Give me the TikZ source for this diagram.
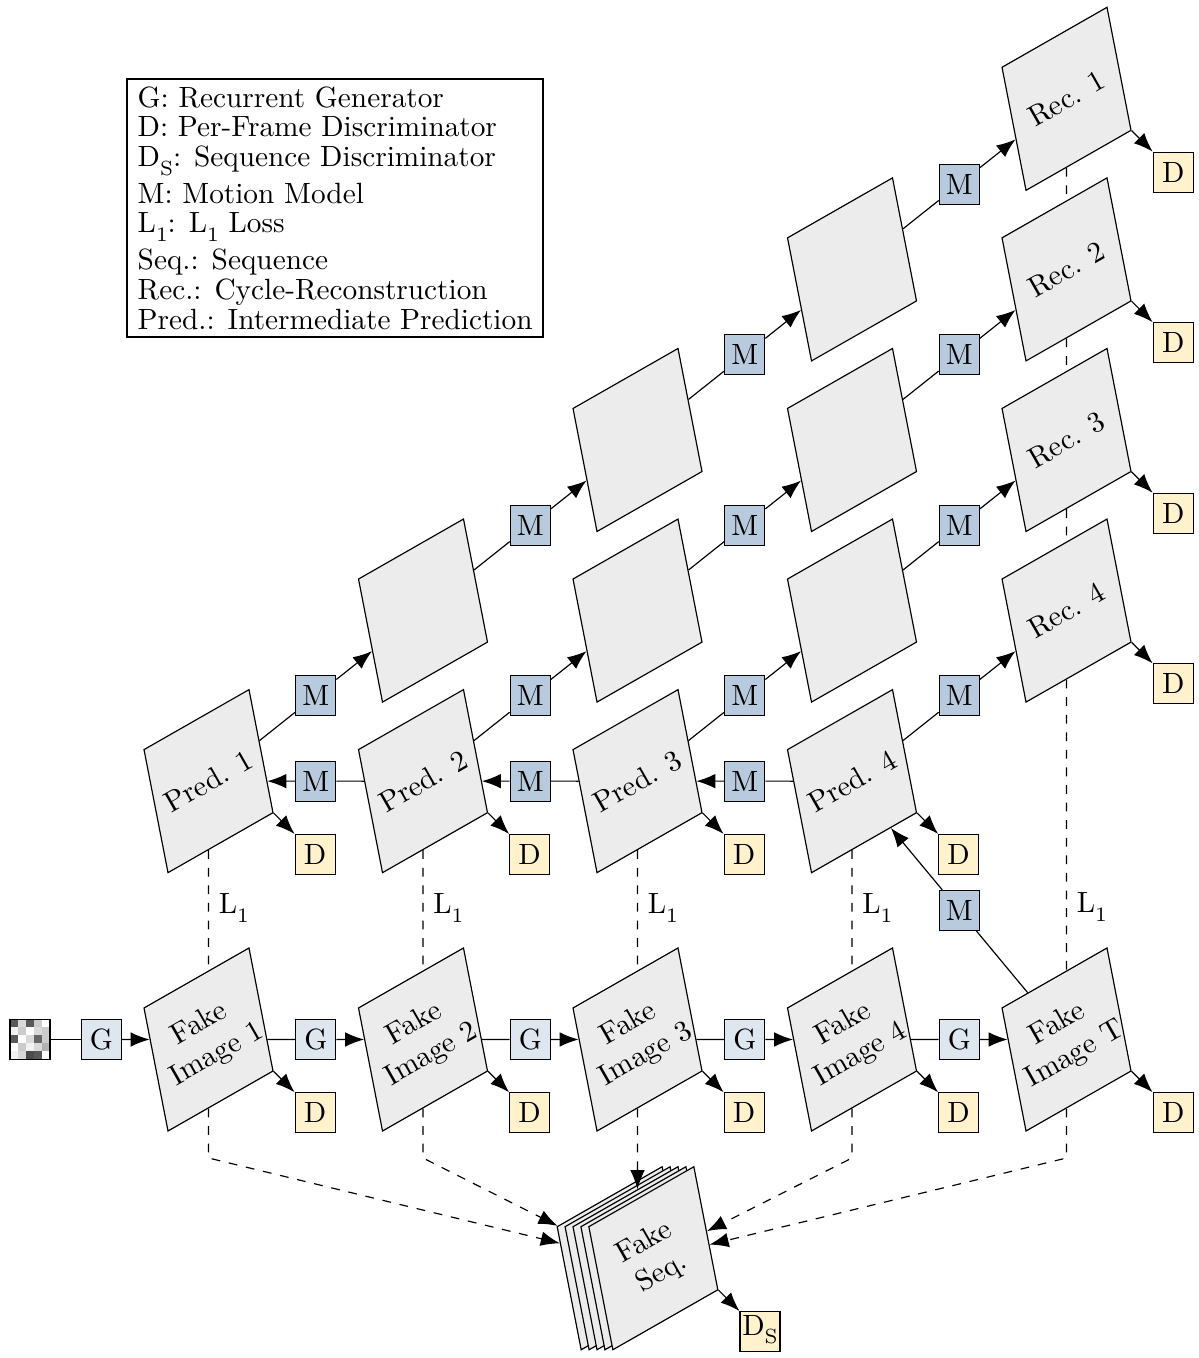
\documentclass[tikz,border=0pt]{standalone}
\usepackage{tikz}
\usetikzlibrary{arrows.meta,calc}
\definecolor{cardgray}{RGB}{236,236,236}
\definecolor{genblue}{RGB}{222,230,240}
\definecolor{motblue}{RGB}{184,202,222}
\definecolor{discyellow}{RGB}{255,242,204}
\newcommand{\colstep}{2.574}
\newcommand{\predy}{3.10}
\newcommand{\diagy}{2.047}
\newcommand{\lowsub}[1]{\raisebox{-3pt}[\height][4.4pt]{\scriptsize #1}}
\tikzset{
  cardshape/.style = {draw, fill=cardgray, rotate=29.74, xslant=0.3385,
    minimum width=1.451cm, minimum height=1.425cm, inner sep=0pt},
  pics/card/.default={},
  pics/card/.style = {
    code = {
    \node[cardshape] (-box) {};
    \node[rotate=29.74, align=center, inner sep=0pt] (-txt) {#1};
    }
  },
  unit/.style = {draw, minimum size=0.48cm, inner sep=0pt},
  gen/.style = {unit, fill=genblue},
  mot/.style = {unit, fill=motblue},
  disc/.style = {unit, fill=discyellow},
  arr/.style = {-{Latex[length=6.5pt,width=5pt]}},
  loss/.style = {dashed}
}
\begin{document}
\begin{tikzpicture}
\useasboundingbox (-2.502,-3.822) rectangle (11.874,12.474);

\foreach \c [count=\n from 0] in {65,15,65,20,0, 5,20,0,15,20, 65,0,15,60,20, 0,20,5,15,30, 5,15,70,65,0}{
  \pgfmathtruncatemacro\cx{mod(\n,5)}
  \pgfmathtruncatemacro\cy{int(\n/5)}
  \fill[black!\c] (-2.382+0.096*\cx, 0.24-0.096*\cy) rectangle ++(0.096,-0.096);
}
\node[unit] (noise) at (-2.142,0) {};

\foreach \i/\t in {1/1,2/2,3/3,4/4,5/T}{
  \pic (img-\i) at ({(\i-1)*\colstep},0) {card={Fake\\Image \t}};
  \node[gen] (g-\i) at ({(\i-1.5)*\colstep},0) {G};
  \node[disc] (d-img-\i) at ({(\i-1)*\colstep+1.28},-0.88) {D};
  \draw[arr] (img-\i-box.south east) -- (d-img-\i);
  \draw[arr] (g-\i) -- (img-\i-box);
}
\draw (noise) -- (g-1);
\foreach \i in {2,...,5}{
  \pgfmathtruncatemacro\prev{\i-1}
  \draw (img-\prev-box) -- (g-\i);
}

\foreach \k in {1,...,4}{
  \pic (pred-\k) at ({(\k-1)*\colstep},\predy) {card={Pred. \k}};
  \node[disc] (d-pred-\k) at ({(\k-1)*\colstep+1.28},\predy-0.88) {D};
  \draw[arr] (pred-\k-box.south east) -- (d-pred-\k);
  \draw[loss] (pred-\k-box) -- node[right] (l1-\k) {L\lowsub{1}} (img-\k-box);
  \pic (rec-\k) at ({4*\colstep},{\predy+(5-\k)*\diagy}) {card={Rec. \k}};
  \node[disc] (d-rec-\k) at ({4*\colstep+1.28},{\predy+(5-\k)*\diagy-0.88}) {D};
  \draw[arr] (rec-\k-box.south east) -- (d-rec-\k);
}
\foreach \k/\s in {1/1,1/2,1/3,2/1,2/2,3/1}
  \pic (ch-\k-\s) at ({(\k+\s-1)*\colstep},{\predy+\s*\diagy}) {card};

\foreach \a/\b in {pred-1/ch-1-1, ch-1-1/ch-1-2, ch-1-2/ch-1-3, ch-1-3/rec-1,
                   pred-2/ch-2-1, ch-2-1/ch-2-2, ch-2-2/rec-2,
                   pred-3/ch-3-1, ch-3-1/rec-3, pred-4/rec-4,
                   pred-2/pred-1, pred-3/pred-2, pred-4/pred-3, img-5/pred-4}{
  \node[mot] (m-\a-\b) at ($(\a-box)!0.5!(\b-box)$) {M};
  \draw (\a-box) -- (m-\a-\b);
  \draw[arr] (m-\a-\b) -- (\b-box);
}

\draw[loss] (rec-1-box) -- (rec-2-box);
\draw[loss] (rec-2-box) -- (rec-3-box);
\draw[loss] (rec-3-box) -- (rec-4-box);
\draw[loss] (rec-4-box) -- node[pos=0.79,right] (l1-5) {L\lowsub{1}} (img-5-box);

\foreach \j in {1,...,4}
  \pic (seq-\j) at ({2*\colstep+(\j-3)*0.095},-2.625) {card};
\pic (seq-5) at ({2*\colstep+0.19},-2.625) {card={Fake\\Seq.}};
\node[disc] (ds) at ({2*\colstep+0.19+1.28},-3.505) {D\lowsub{S}};
\draw[arr] (seq-5-box.south east) -- (ds);

\foreach \i/\t in {1/1,2/1,4/5,5/5}
  \draw[loss,arr] (img-\i-box) -- ({(\i-1)*\colstep},-1.422) -- (seq-\t-box);
\draw[loss,arr] (img-3-box) -- (seq-3-box);

\node[draw, thick, anchor=north west, align=left, inner xsep=3.6pt, inner ysep=2.5pt,
  font=\linespread{0.85}\selectfont] (legend) at (-0.99,11.538)
  {G: Recurrent Generator\\
   D: Per-Frame Discriminator\\
   D\lowsub{S}: Sequence Discriminator\\
   M: Motion Model\\
   L\lowsub{1}: L\lowsub{1} Loss\\
   Seq.: Sequence\\
   Rec.: Cycle-Reconstruction\\
   Pred.: Intermediate Prediction};
\end{tikzpicture}
\end{document}
